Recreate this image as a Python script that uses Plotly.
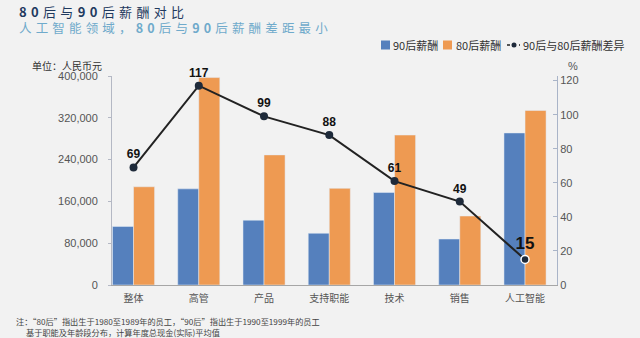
import plotly.graph_objects as go

categories = ["整体", "高管", "产品", "支持职能", "技术", "销售", "人工智能"]
pay_90 = [112000, 184000, 124000, 99000, 177000, 88000, 291000]
pay_80 = [188000, 397000, 249000, 185000, 287000, 132000, 334000]
gap_pct = [69, 117, 99, 88, 61, 49, 15]

left_ticks = [0, 80000, 160000, 240000, 320000, 400000]
right_ticks = [0, 20, 40, 60, 80, 100, 120]

series_names = ["90后薪酬", "80后薪酬", "90后与80后薪酬差异"]

blue = "#5580BD"
orange = "#EE9A52"
bg = "#F2F2F2"
cjk = "Noto Sans CJK SC"
num_font = "Liberation Sans, Arial, sans-serif"

W, H = 640, 338
L, R, T, B = 112, 83, 76, 53
PW, PH = W - L - R, H - T - B


def px(x):  # page pixel -> paper x
    return (x - L) / PW


def py(y):  # page pixel -> paper y
    return (H - B - y) / PH


def spaced(parts):
    # headline is set with wide letter spacing; digits are bold
    out = []
    for s, bold in parts:
        for ch in s:
            out.append("<b>" + ch + "</b>" if bold else ch)
    return "\u2004".join(out)


fig = go.Figure()
fig.add_trace(go.Bar(x=categories, y=pay_90, name=series_names[0], marker_color=blue))
fig.add_trace(go.Bar(x=categories, y=pay_80, name=series_names[1], marker_color=orange))

# last point (AI) is highlighted: bigger label, white ring
sizes = [12] * len(gap_pct)
sizes[-1] = 17
ring_w = [0] * len(gap_pct)
ring_w[-1] = 1.5
fig.add_trace(go.Scatter(
    x=categories, y=gap_pct, name=series_names[2], yaxis="y2",
    mode="lines+markers+text", text=[str(v) for v in gap_pct],
    textposition="top center", cliponaxis=False,
    textfont=dict(family=num_font, size=sizes, color="#111111", weight="bold"),
    line=dict(color="#222222", width=2),
    marker=dict(color="#1E2A3A", size=8, line=dict(color="white", width=ring_w)),
))

fig.update_layout(
    width=W, height=H,
    margin=dict(l=L, r=R, t=T, b=B, autoexpand=False),
    paper_bgcolor=bg, plot_bgcolor=bg,
    barmode="group", bargap=0.355, bargroupgap=0,
    font=dict(family=cjk, size=11, color="#404040"),
    showlegend=False,
    xaxis=dict(range=[-0.33, 6.49], showline=True, linecolor="#A6A6A6", linewidth=1,
               ticks="", ticklabelstandoff=4,
               tickfont=dict(family=cjk, size=10, color="#555555")),
    yaxis=dict(range=[0, 400000], tickvals=left_ticks, tickformat=",",
               showgrid=False, zeroline=False, showline=True, linecolor="#B4B8C4",
               ticks="outside", ticklen=3, tickcolor="#B4B8C4", ticklabelstandoff=8,
               tickfont=dict(family=num_font, size=11, color="#555555")),
    yaxis2=dict(range=[0, 122.7], tickvals=right_ticks, overlaying="y", side="right",
                showgrid=False, zeroline=False, showline=True, linecolor="#A9B4C8",
                ticks="inside", ticklen=4, tickcolor="#A9B4C8",
                tickfont=dict(family=num_font, size=11, color="#555555")),
)

# hand-drawn legend, more compact than plotly's
leg_y = py(45)
fig.add_shape(type="rect", xref="paper", yref="paper", x0=px(381), x1=px(390),
              y0=py(49.5), y1=py(40.5), fillcolor=blue, line_width=0)
fig.add_shape(type="rect", xref="paper", yref="paper", x0=px(443), x1=px(452),
              y0=py(49.5), y1=py(40.5), fillcolor=orange, line_width=0)
fig.add_shape(type="line", xref="paper", yref="paper", x0=px(507), x1=px(520),
              y0=leg_y, y1=leg_y, line=dict(color="#222222", width=1.5, dash="dot"))
fig.add_shape(type="circle", xref="paper", yref="paper", x0=px(511.5), x1=px(516.5),
              y0=py(47.5), y1=py(42.5), fillcolor="#1E2A3A", line_width=0)
for name, x in zip(series_names, [391, 454, 521]):
    fig.add_annotation(text=name, xref="paper", yref="paper", x=px(x), y=leg_y,
                       xanchor="left", yanchor="middle", showarrow=False,
                       font=dict(family=cjk, size=11, color="#333333"))

title = spaced([("80", True), ("后与", False), ("90", True), ("后薪酬对比", False)])
subtitle = spaced([("人工智能领域，", False), ("80", True), ("后与", False), ("90", True),
                   ("后薪酬差距最小", False)])
fig.add_annotation(text=title, xref="paper", yref="paper",
                   x=px(17), y=py(12), xanchor="left", yanchor="middle", showarrow=False,
                   font=dict(family=cjk, size=13, color="#1F3A5F"))
fig.add_annotation(text=subtitle, xref="paper", yref="paper",
                   x=px(17), y=py(28), xanchor="left", yanchor="middle", showarrow=False,
                   font=dict(family=cjk, size=12.5, color="#6FAACB"))
fig.add_annotation(text="单位：人民币元", xref="paper", yref="paper",
                   x=px(104), y=py(65), xanchor="right", yanchor="middle", showarrow=False,
                   font=dict(family=cjk, size=10, color="#333333"))
fig.add_annotation(text="%", xref="paper", yref="paper",
                   x=px(566), y=py(66), xanchor="left", yanchor="middle", showarrow=False,
                   font=dict(family=num_font, size=11, color="#555555"))
fig.add_annotation(text="注：“80后”指出生于1980至1989年的员工，“90后”指出生于1990至1999年的员工<br>"
                        "\u3000 基于职能及年龄段分布，计算年度总现金(实际)平均值",
                   xref="paper", yref="paper", x=px(14), y=py(326.5), xanchor="left",
                   yanchor="middle", showarrow=False, align="left",
                   font=dict(family=cjk, size=8.2, color="#444444"))

# drop the default 8px page margin so the figure fills the window
fig.write_html("out.html", config={"displayModeBar": False},
               post_script="document.body.style.margin='0';")
